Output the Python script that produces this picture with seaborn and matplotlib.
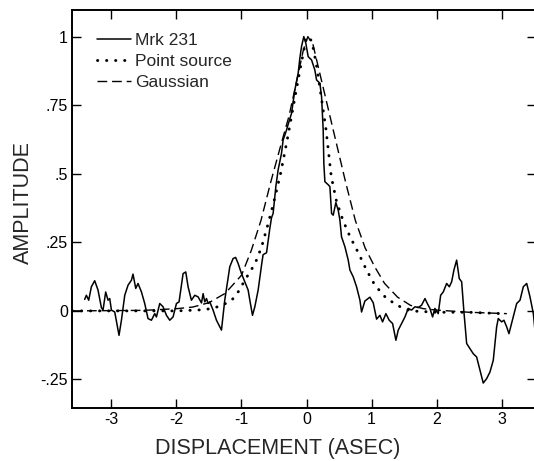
import numpy as np
import pandas as pd
import matplotlib
matplotlib.use("Agg")
import matplotlib.pyplot as plt
import seaborn as sns

# ---- data ----
mrk_x = [-3.411, -3.385, -3.349, -3.308, -3.257, -3.206, -3.154, -3.129, -3.088, -3.052,
         -3.026, -3.000, -2.949, -2.883, -2.846, -2.795, -2.744, -2.692, -2.668, -2.626,
         -2.591, -2.538, -2.488, -2.437, -2.385, -2.334, -2.308, -2.257, -2.206, -2.154,
         -2.103, -2.052, -2.000, -1.960, -1.898, -1.857, -1.821, -1.770, -1.718, -1.667,
         -1.615, -1.590, -1.565, -1.538, -1.513, -1.488, -1.437, -1.385, -1.308, -1.257,
         -1.180, -1.129, -1.090, -1.052, -1.000, -0.949, -0.898, -0.872, -0.831, -0.795,
         -0.744, -0.690, -0.668, -0.615, -0.565, -0.538, -0.514, -0.472, -0.437, -0.385,
         -0.360, -0.308, -0.283, -0.231, -0.180, -0.129, -0.103, -0.077, -0.042, -0.011,
         0.025, 0.077, 0.128, 0.154, 0.205, 0.231, 0.256, 0.266, 0.282, 0.333,
         0.359, 0.385, 0.410, 0.451, 0.487, 0.513, 0.538, 0.590, 0.641, 0.667,
         0.718, 0.769, 0.821, 0.846, 0.897, 0.974, 1.025, 1.077, 1.128, 1.169,
         1.220, 1.271, 1.323, 1.374, 1.410, 1.462, 1.513, 1.564, 1.615, 1.667,
         1.718, 1.769, 1.821, 1.857, 1.897, 1.938, 1.974, 2.025, 2.062, 2.102,
         2.154, 2.195, 2.231, 2.266, 2.308, 2.348, 2.385, 2.420, 2.462, 2.512,
         2.563, 2.615, 2.666, 2.717, 2.769, 2.820, 2.871, 2.923, 2.948, 3.000,
         3.035, 3.077, 3.112, 3.178, 3.231, 3.282, 3.333, 3.385, 3.436, 3.487, 3.520]
mrk_y = [0.042, 0.057, 0.039, 0.088, 0.110, 0.076, 0.012, 0.003, 0.069, 0.039,
         0.045, 0.003, -0.004, -0.089, -0.034, 0.057, 0.094, 0.112, 0.134, 0.082,
         0.100, 0.069, 0.027, -0.028, -0.034, -0.010, -0.022, 0.027, 0.015, -0.016,
         -0.034, -0.022, 0.027, 0.033, 0.136, 0.142, 0.088, 0.039, 0.057, 0.051,
         0.029, 0.063, 0.033, 0.045, 0.027, 0.033, 0.003, -0.034, -0.070, 0.040,
         0.161, 0.191, 0.195, 0.173, 0.136, 0.106, 0.076, 0.039, -0.016, 0.015,
         0.076, 0.170, 0.205, 0.212, 0.300, 0.340, 0.355, 0.453, 0.514, 0.574,
         0.623, 0.659, 0.680, 0.720, 0.805, 0.866, 0.921, 0.964, 1.000, 0.976,
         0.927, 0.915, 0.878, 0.842, 0.830, 0.781, 0.660, 0.538, 0.471, 0.460,
         0.453, 0.355, 0.349, 0.395, 0.367, 0.331, 0.270, 0.234, 0.185, 0.149,
         0.124, 0.088, 0.039, -0.004, 0.036, 0.050, 0.030, -0.030, -0.016, -0.040,
         -0.010, -0.034, -0.046, -0.107, -0.070, -0.046, -0.022, 0.009, 0.003, 0.015,
         0.012, 0.021, 0.045, 0.027, 0.009, -0.022, 0.009, -0.010, 0.057, 0.069,
         0.100, 0.088, 0.106, 0.149, 0.185, 0.118, 0.106, -0.004, -0.119, -0.137,
         -0.156, -0.168, -0.216, -0.263, -0.247, -0.223, -0.180, -0.058, -0.028, -0.040,
         -0.034, -0.058, -0.083, -0.022, 0.027, 0.039, 0.088, 0.100, 0.051, -0.010, -0.090]

point_x = [-3.6, -2.0, -1.6, -1.45, -1.3, -1.15, -1.03, -0.95, -0.85, -0.77,
           -0.69, -0.6, -0.5, -0.4, -0.3, -0.2, -0.1, 0.0, 0.08, 0.15,
           0.22, 0.3, 0.38, 0.46, 0.56, 0.67, 0.8, 0.92, 1.05, 1.23,
           1.44, 1.6, 2.0, 2.5, 3.0]
point_y = [0.0, 0.0, 0.004, 0.009, 0.02, 0.039, 0.076, 0.112, 0.149, 0.185,
           0.234, 0.31, 0.40, 0.50, 0.62, 0.75, 0.88, 1.0, 0.985, 0.9,
           0.79, 0.66, 0.49, 0.40, 0.33, 0.27, 0.21, 0.15, 0.094, 0.045,
           0.015, 0.0, -0.005, -0.005, -0.01]

gauss_x = [-3.6, -2.5, -2.0, -1.75, -1.5, -1.25, -1.0, -0.85, -0.7, -0.55,
           -0.4, -0.27, -0.15, -0.05, 0.02, 0.1, 0.2, 0.3, 0.4, 0.5,
           0.6, 0.75, 0.9, 1.05, 1.2, 1.4, 1.6, 1.8, 2.0, 2.5, 3.08]
gauss_y = [0.0, 0.002, 0.008, 0.014, 0.03, 0.064, 0.13, 0.22, 0.33, 0.47,
           0.6, 0.71, 0.84, 0.95, 1.0, 0.97, 0.87, 0.77, 0.67, 0.57,
           0.47, 0.33, 0.23, 0.16, 0.10, 0.05, 0.02, 0.008, 0.003, -0.005, -0.01]

series_labels = ["Mrk 231", "Point source", "Gaussian"]
x_ticks = [-3, -2, -1, 0, 1, 2, 3]
x_ticklabels = ["-3", "-2", "-1", "0", "1", "2", "3"]
y_ticks = [1, 0.75, 0.5, 0.25, 0, -0.25]
y_ticklabels = ["1", ".75", ".5", ".25", "0", "-.25"]

# ---- style ----
sns.set_style("ticks")
plt.rcParams["font.family"] = ["Liberation Sans", "DejaVu Sans"]

fig = plt.figure(figsize=(5.34, 4.61), dpi=100)
ax = fig.add_axes([72 / 534, 53 / 461, 464 / 534, 398 / 461])

df_m = pd.DataFrame({"x": mrk_x, "y": mrk_y})
df_p = pd.DataFrame({"x": point_x, "y": point_y})
df_g = pd.DataFrame({"x": gauss_x, "y": gauss_y})

sns.lineplot(data=df_m, x="x", y="y", ax=ax, sort=False, estimator=None,
             color="black", lw=1.1, label=series_labels[0])
sns.lineplot(data=df_p, x="x", y="y", ax=ax, sort=False, estimator=None,
             color="black", lw=2.1, label=series_labels[1],
             linestyle=(0, (0.1, 3.0)), dash_capstyle="round")
sns.lineplot(data=df_g, x="x", y="y", ax=ax, sort=False, estimator=None,
             color="black", lw=1.0, label=series_labels[2],
             linestyle=(0, (7, 3.5)))

ax.set_xlim(-3.606, 3.528)
ax.set_ylim(-0.354, 1.097)
ax.set_xticks(x_ticks)
ax.set_xticklabels(x_ticklabels)
ax.set_yticks(y_ticks)
ax.set_yticklabels(y_ticklabels)
ax.tick_params(direction="in", top=True, right=True, length=6.5, width=1.0,
               labelsize=11.5, pad=3, colors="black")
for s in ax.spines.values():
    s.set_visible(True)
    s.set_linewidth(1.4)
    s.set_color("black")

ax.set_xlabel("DISPLACEMENT (ASEC)", fontsize=15.5)
ax.set_ylabel("AMPLITUDE", fontsize=15.5)
ax.xaxis.set_label_coords(0.444, -0.075)
ax.yaxis.set_label_coords(-0.083, 0.515)

leg = ax.legend(loc="upper left", bbox_to_anchor=(0.053, 0.943), frameon=False,
                fontsize=12.5, handlelength=2.0, handletextpad=0.2,
                labelspacing=0.33, borderpad=0, borderaxespad=0)

fig.savefig("out.png", dpi=100)
